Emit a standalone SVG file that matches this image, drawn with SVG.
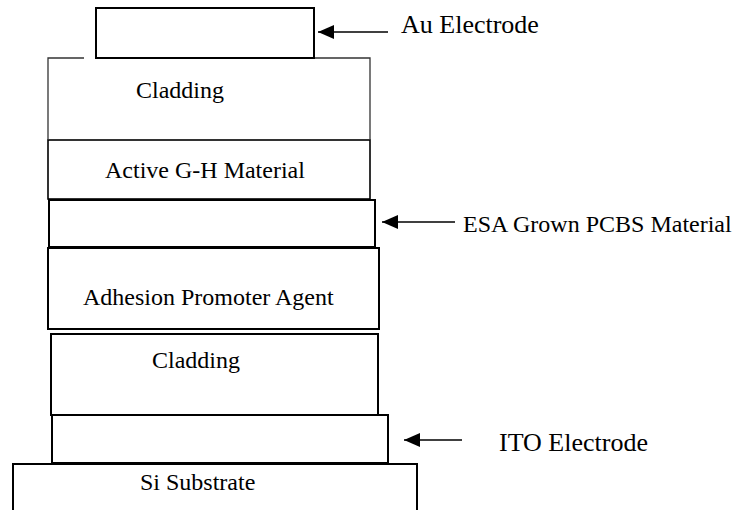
<svg xmlns="http://www.w3.org/2000/svg" width="736" height="510" viewBox="0 0 736 510">
<style>
.layer{fill:#fff;stroke:#000;stroke-width:2}
.thin{fill:none;stroke:#333;stroke-width:1.3}
.lbl{font-family:"Liberation Serif","Times New Roman",serif;font-size:24px;fill:#000}
.big{font-size:26px}
.arr{stroke:#000;stroke-width:1.6;fill:none;marker-end:url(#ah)}
</style>
<defs>
<marker id="ah" markerUnits="userSpaceOnUse" markerWidth="17" markerHeight="14" refX="16" refY="7" orient="auto">
<path d="M0,0 L16,7 L0,14 Z" fill="#000"/>
</marker>
</defs>
<rect width="736" height="510" fill="#fff"/>
<g id="si-substrate">
<rect class="layer" x="13" y="464" width="404" height="60"/>
<text class="lbl" x="140" y="490">Si Substrate</text>
</g>
<g id="ito-electrode">
<rect class="layer" x="52" y="415" width="336" height="48"/>
</g>
<g id="cladding-bottom">
<rect class="layer" x="51" y="334" width="327" height="81"/>
<text class="lbl" x="152" y="368">Cladding</text>
</g>
<g id="adhesion">
<rect class="layer" x="48" y="248" width="331" height="81"/>
<text class="lbl" x="83" y="305">Adhesion Promoter Agent</text>
</g>
<g id="esa-layer">
<rect class="layer" x="49" y="200" width="326" height="47"/>
</g>
<g id="active-gh">
<rect x="48" y="140" width="322" height="59" fill="#fff" stroke="#000" stroke-width="1.6"/>
<text class="lbl" x="105" y="178">Active G-H Material</text>
</g>
<g id="cladding-top">
<path class="thin" d="M84,58 H48 V140 M314,58 H370 V140"/>
<text class="lbl" x="136" y="98">Cladding</text>
</g>
<g id="au-electrode">
<rect class="layer" x="96" y="8" width="218" height="50"/>
</g>
<g id="connectors">
<line class="arr" x1="388" y1="32" x2="318" y2="32"/>
<line class="arr" x1="455" y1="222" x2="382" y2="222"/>
<line class="arr" x1="462" y1="440" x2="404" y2="440"/>
</g>
<g id="labels">
<text class="lbl big" x="401" y="33">Au Electrode</text>
<text class="lbl" x="463" y="232">ESA Grown PCBS Material</text>
<text class="lbl big" x="499" y="451">ITO Electrode</text>
</g>
</svg>
